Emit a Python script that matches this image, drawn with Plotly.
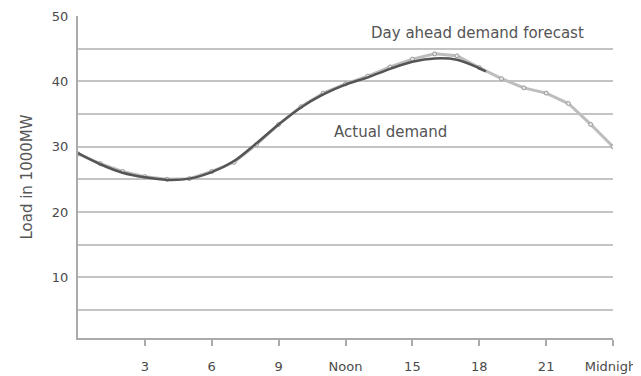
import plotly.graph_objects as go

hours = list(range(25))
forecast = [28.9, 27.4, 26.2, 25.4, 25.0, 25.1, 26.2, 27.6, 30.3, 33.4, 36.1, 38.2, 39.6,
            40.8, 42.2, 43.4, 44.2, 43.9, 42.1, 40.4, 39.0, 38.2, 36.6, 33.4, 30.0]
actual_hours = [0, 1, 2, 3, 4, 5, 6, 7, 8, 9, 10, 11, 12, 13, 14, 15, 16, 17, 18, 18.3]
actual = [29.0, 27.3, 26.0, 25.3, 24.9, 25.1, 26.1, 27.8, 30.5, 33.4, 36.0, 38.0, 39.5,
          40.6, 41.9, 43.0, 43.5, 43.3, 42.0, 41.5]

x_ticks = [3, 6, 9, 12, 15, 18, 21, 24]
x_labels = ["3", "6", "9", "Noon", "15", "18", "21", "Midnight"]
y_grid = [5, 10, 15, 20, 25, 30, 35, 40, 45, 50]
y_labels = ["", "10", "", "20", "", "30", "", "40", "", "50"]

font = dict(family="DejaVu Sans, Verdana, sans-serif", size=15, color="#555")
tick_font = dict(family="DejaVu Sans, Verdana, sans-serif", size=13, color="#4a4a4a")

fig = go.Figure()
fig.add_trace(go.Scatter(
    x=hours, y=forecast, mode="lines+markers",
    line=dict(color="#bdbdbd", width=3),
    marker=dict(size=4, color="#e6e6e6", line=dict(color="#9a9a9a", width=1)),
    showlegend=False))
fig.add_trace(go.Scatter(
    x=actual_hours, y=actual, mode="lines",
    line=dict(color="#555", width=2.5, shape="spline"),
    showlegend=False))

fig.add_annotation(x=17.9, y=47.4, text="Day ahead demand forecast", showarrow=False, font=font)
fig.add_annotation(x=14, y=32.3, text="Actual demand", showarrow=False, font=font)

fig.update_xaxes(range=[0, 24], tickvals=x_ticks, ticktext=x_labels, showgrid=False,
                 showline=True, linecolor="#aaa", linewidth=2, ticks="outside",
                 tickcolor="#aaa", ticklen=6, tickwidth=2, ticklabelstandoff=9,
                 ticklabeloverflow="allow", zeroline=False, tickfont=tick_font)
fig.update_yaxes(range=[0.7, 50], tickvals=y_grid, ticktext=y_labels, showgrid=True,
                 gridcolor="#c4c4c4", gridwidth=2, showline=True, linecolor="#aaa",
                 linewidth=2, zeroline=False, ticks="", ticklabelstandoff=5,
                 tickfont=tick_font, title=dict(text="Load in 1000MW", font=font, standoff=16))

fig.update_layout(width=641, height=376, margin=dict(l=70, r=36, t=8, b=46, autoexpand=False),
                  plot_bgcolor="white", paper_bgcolor="white", font=font)

fig.write_html("out.html")
